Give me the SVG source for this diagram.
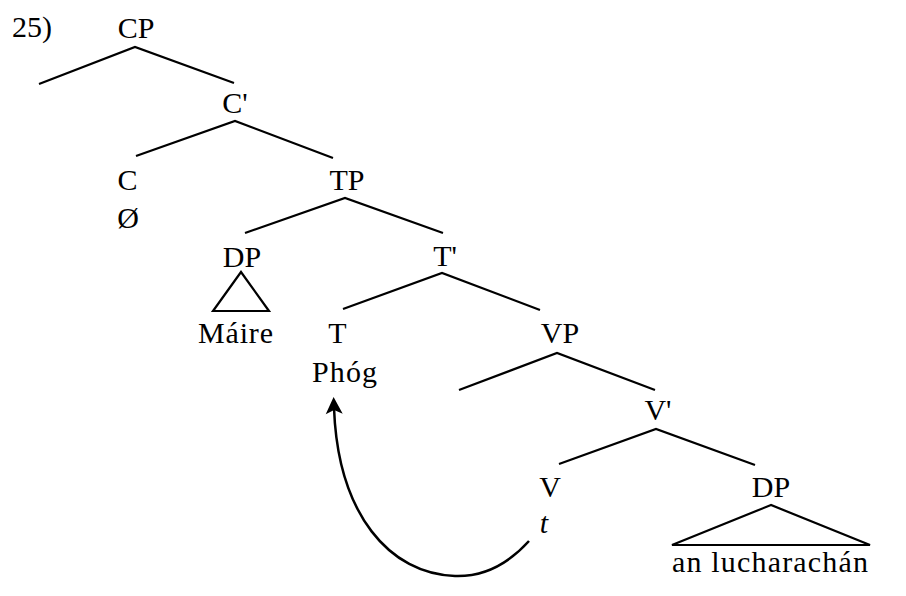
<svg xmlns="http://www.w3.org/2000/svg" width="906" height="596" viewBox="0 0 906 596">
<style>
text{font-family:"Liberation Serif","Times New Roman",serif;font-size:30px;fill:#000;text-anchor:middle}
.e{stroke:#000;stroke-width:2.2;fill:none;stroke-linecap:butt}
.mv{stroke:#000;stroke-width:2.5;fill:none}
</style>
<defs>
<marker id="ah" markerUnits="userSpaceOnUse" markerWidth="30" markerHeight="30" refX="0" refY="0" viewBox="-10 -15 30 30" orient="auto" overflow="visible">
<path d="M11,0 L-6,-8.5 L-2,0 L-6,8.5 Z" fill="#000"/>
</marker>
</defs>
<rect width="906" height="596" fill="#fff"/>
<text x="12" y="37" style="text-anchor:start">25)</text>
<g id="connectors">
<path class="e" d="M39,84 L135,47 L234,83"/>
<path class="e" d="M136,156 L235,121 L333,158"/>
<path class="e" d="M245,233 L345,198 L443,233"/>
<path class="e" d="M343,309 L442,273 L540,310"/>
<path class="e" d="M459,390 L557,353 L655,390"/>
<path class="e" d="M559,464 L656,429 L755,465"/>
<path class="mv" d="M529,541 C510,562 485,577 455,576 C390,574 338,515 334,408" marker-end="url(#ah)"/>
</g>
<g id="CP"><text x="136" y="38">CP</text></g>
<g id="Cbar"><text x="235" y="113">C'</text></g>
<g id="C"><text x="127.5" y="190">C</text><text x="128" y="228">Ø</text></g>
<g id="TP"><text x="347" y="190">TP</text></g>
<g id="DP1"><text x="242" y="267">DP</text><path class="e" d="M241,272 L213,311 L269,311 Z"/><text x="235.5" y="343" textLength="75" lengthAdjust="spacing">Máire</text></g>
<g id="Tbar"><text x="445" y="266">T'</text></g>
<g id="T"><text x="337.5" y="343">T</text><text x="344.5" y="382" textLength="65" lengthAdjust="spacing">Phóg</text></g>
<g id="VP"><text x="560" y="343">VP</text></g>
<g id="Vbar"><text x="658" y="420">V'</text></g>
<g id="V"><text x="550" y="497">V</text><text x="544" y="533" font-style="italic">t</text></g>
<g id="DP2"><text x="771" y="497">DP</text><path class="e" d="M771,505 L672,545 L870,545 Z"/><text x="770" y="572" textLength="196" lengthAdjust="spacing">an lucharachán</text></g>
</svg>
